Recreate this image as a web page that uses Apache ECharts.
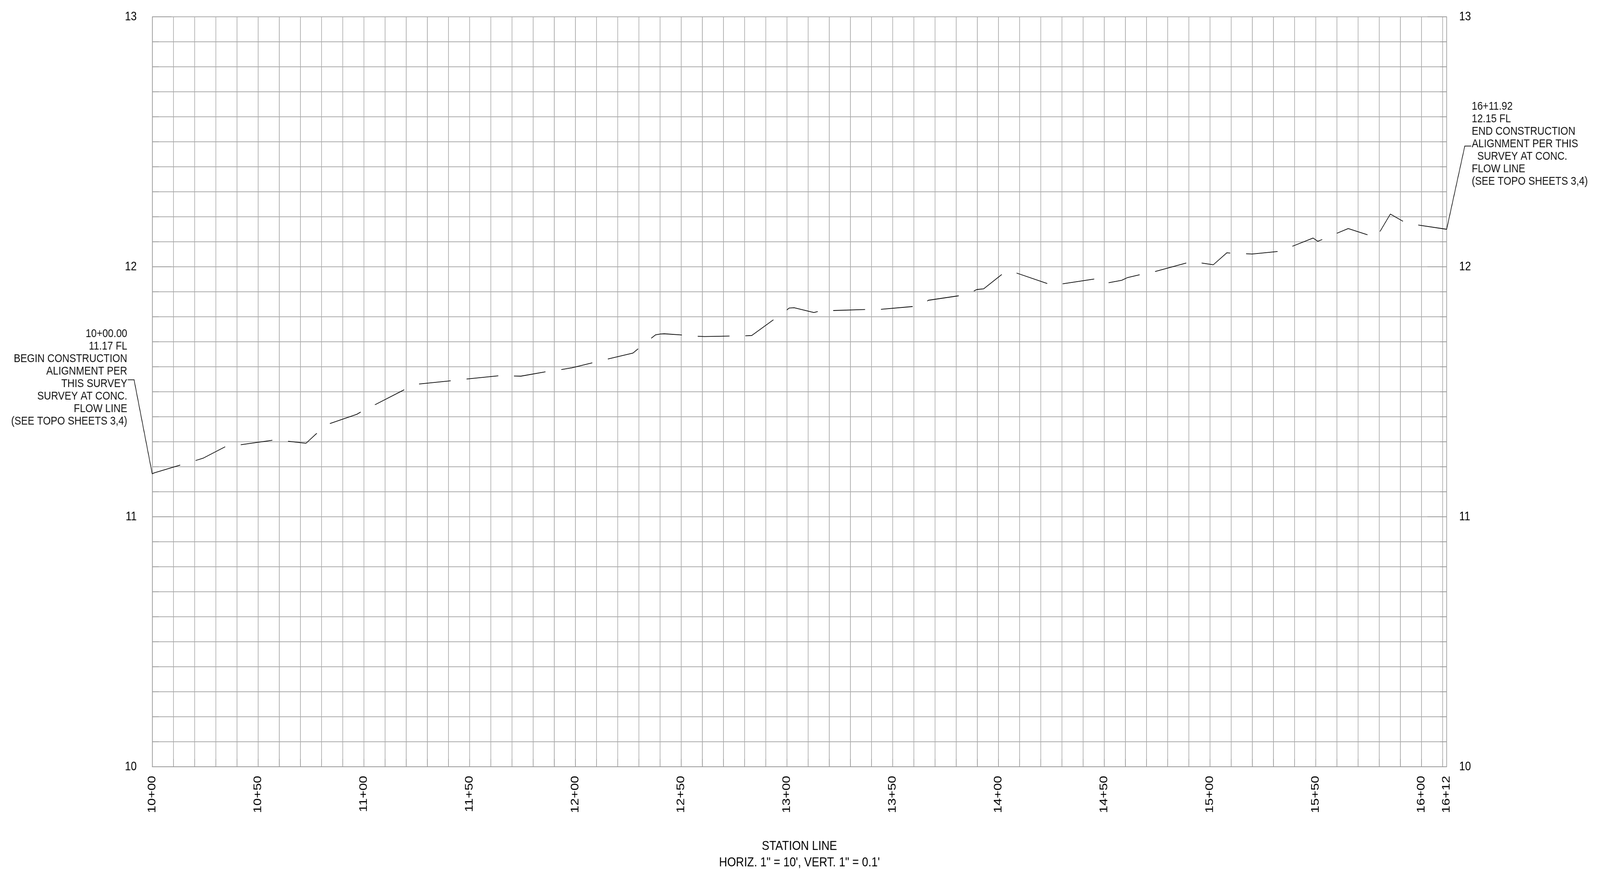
<!DOCTYPE html>
<html>
<head>
<meta charset="utf-8">
<style>html,body{margin:0;padding:0;background:#fff;overflow:hidden}#c{width:4841px;height:2235px;transform-origin:0 0}</style>
<script src="https://cdn.jsdelivr.net/npm/echarts@6/dist/echarts.min.js"></script>
</head>
<body>
<div id="c"></div>
<script>
// Feet past station 10+00; null marks a break in the dashed flow line.
var profileStations = [
0,1.1,13.25,null,
20.5,24,34.5,null,
41.85,56.8,null,
64.2,72.7,77.8,null,
84,96.75,98.55,null,
105.3,119.1,null,
126.15,141.1,null,
148.6,163.6,null,
171,174.3,185.9,null,
193.4,198.4,208.05,null,
215.4,227.3,229.7,null,
235.9,238,240.2,242.05,250.4,null,
257.9,261,272.9,null,
280.4,283.4,293.65,null,
300,301.1,303.5,312.8,314.6,null,
321.95,337,null,
344.5,359.5,null,
366.4,366.9,381.25,null,
388.4,389.8,393.1,401.6,null,
408.6,423.1,null,
430.4,445.3,null,
452.1,458.3,461.1,466.8,null,
474.1,488.8,null,
496.1,501.6,508,509.6,null,
517.1,519.9,532,null,
539,548.8,551,553.1,null,
560,565.4,574.5,null,
580.4,585.3,591.25,null,
598.5,611.92];
var profileElevations = [
11.172,11.176,11.207,null,
11.225,11.234,11.28,null,
11.288,11.306,null,
11.302,11.294,11.334,null,
11.373,11.41,11.419,null,
11.448,11.508,null,
11.531,11.544,null,
11.551,11.564,null,
11.563,11.5625,11.58,null,
11.589,11.596,11.616,null,
11.631,11.655,11.672,null,
11.714,11.728,11.731,11.732,11.727,null,
11.722,11.721,11.723,null,
11.724,11.725,11.788,null,
11.827,11.835,11.836,11.817,11.821,null,
11.825,11.829,null,
11.83,11.841,null,
11.863,11.866,11.884,null,
11.903,11.909,11.912,11.969,null,
11.975,11.933,null,
11.932,11.951,null,
11.936,11.946,11.957,11.968,null,
11.981,12.015,null,
12.015,12.008,12.056,12.055,null,
12.052,12.051,12.061,null,
12.082,12.115,12.102,12.109,null,
12.134,12.153,12.128,null,
12.141,12.211,12.182,null,
12.167,12.15];
var stationMax = 611.92;
var xLabelStations = [0,50,100,150,200,250,300,350,400,450,500,550,600,611.92];
var xLabelTexts = ['10+00','10+50','11+00','11+50','12+00','12+50','13+00','13+50','14+00','14+50','15+00','15+50','16+00','16+12'];
var elevMin = 10, elevMax = 13;
var leaderLeftStations = [-11.5,-8.58,0];
var leaderLeftElevations = [11.548,11.548,11.172];
var leaderRightStations = [623.4,620.5,611.92];
var leaderRightElevations = [12.483,12.483,12.15];
var noteLeft = ['10+00.00','11.17 FL','BEGIN CONSTRUCTION','ALIGNMENT PER','THIS SURVEY','SURVEY AT CONC.','FLOW LINE','(SEE TOPO SHEETS 3,4)'];
var noteRight = ['16+11.92','12.15 FL','END CONSTRUCTION','ALIGNMENT PER THIS','  SURVEY AT CONC.','FLOW LINE','(SEE TOPO SHEETS 3,4)'];
var axisTitle = 'STATION LINE\nHORIZ. 1" = 10\', VERT. 1" = 0.1\'';

function zip(a,b){return a.map(function(v,i){return [v,b[i]];});}
var gridColor='#ababab', tickColor='#999999', FONT='"Liberation Sans"';
function yAxis(pos,margin,padBottom){return {
  type:'value',position:pos,min:elevMin,max:elevMax,interval:1,
  axisLine:{show:true,onZero:false,lineStyle:{color:tickColor,width:2}},
  axisTick:{show:true,inside:true,length:58,lineStyle:{color:tickColor,width:2}},
  minorTick:{show:true,splitNumber:10,length:20,lineStyle:{color:tickColor,width:2}},
  splitLine:{show:pos==='left',lineStyle:{color:gridColor,width:2,type:'solid'}},
  minorSplitLine:{show:pos==='left',lineStyle:{color:gridColor,width:2,type:'solid'}},
  axisLabel:{show:true,margin:margin,fontFamily:FONT,fontSize:32,color:'#000',padding:[0,0,padBottom,0]}
};}
// Leaders run outside the plot, where a line series is clipped, so they are custom series on the same scales.
function leaderSeries(name,xs,ys){
  var pts=zip(xs,ys);
  return {name:name,type:'custom',data:pts,silent:true,clip:false,
    renderItem:function(params,api){
      var i=params.dataIndex;
      if(i>=pts.length-1)return null;
      var a=api.coord(pts[i]),b=api.coord(pts[i+1]);
      return {type:'line',shape:{x1:a[0],y1:a[1],x2:b[0],y2:b[1]},style:{stroke:'#000',lineWidth:1.8,lineCap:'round'}};
    }};
}
// The chart is laid out at 4841 wide; a narrower browser window squeezes it horizontally to fit.
var box=document.getElementById('c');
if(window.innerWidth<4841){box.style.transform='scaleX('+(window.innerWidth/4841)+')';}
var chart=echarts.init(box,null,{renderer:'canvas',width:4841,height:2235,devicePixelRatio:1});
chart.setOption({
  animation:false,backgroundColor:'#fff',
  grid:{left:460.5,right:464,top:43,bottom:272,containLabel:false},
  xAxis:{type:'value',min:0,max:stationMax,interval:10,
    name:axisTitle,nameLocation:'middle',nameGap:183,
    nameTextStyle:{fontFamily:FONT,fontSize:34,lineHeight:42,color:'#000'},
    axisLine:{show:true,onZero:false,lineStyle:{color:tickColor,width:2}},
    axisTick:{show:true,inside:true,length:20,lineStyle:{color:tickColor,width:2}},
    splitLine:{show:true,lineStyle:{color:gridColor,width:2,type:'solid'}},
    axisLabel:{show:true,rotate:90,margin:23,fontFamily:FONT,fontSize:34,color:'#000',showMinLabel:true,showMaxLabel:true,
      formatter:function(v){
        for(var i=0;i<xLabelStations.length;i++){if(Math.abs(xLabelStations[i]-v)<0.01)return xLabelTexts[i];}
        return '';
      }}
  },
  yAxis:[yAxis('left',47,8),yAxis('right',38,19)],
  series:[
    {name:'Flow line',type:'line',data:zip(profileStations,profileElevations),showSymbol:false,connectNulls:false,clip:false,silent:true,
      lineStyle:{color:'#000',width:1.8}},
    leaderSeries('Begin leader',leaderLeftStations,leaderLeftElevations),
    leaderSeries('End leader',leaderRightStations,leaderRightElevations)
  ],
  graphic:[
    {type:'text',silent:true,style:{text:noteLeft.join('\n'),x:385,y:839,align:'right',verticalAlign:'top',font:'30px '+FONT,lineHeight:32,fill:'#111'}},
    {type:'text',silent:true,style:{text:noteRight.join('\n'),x:4453,y:257,align:'left',verticalAlign:'top',font:'30px '+FONT,lineHeight:32,fill:'#111'}}
  ]
});
</script>
</body>
</html>
